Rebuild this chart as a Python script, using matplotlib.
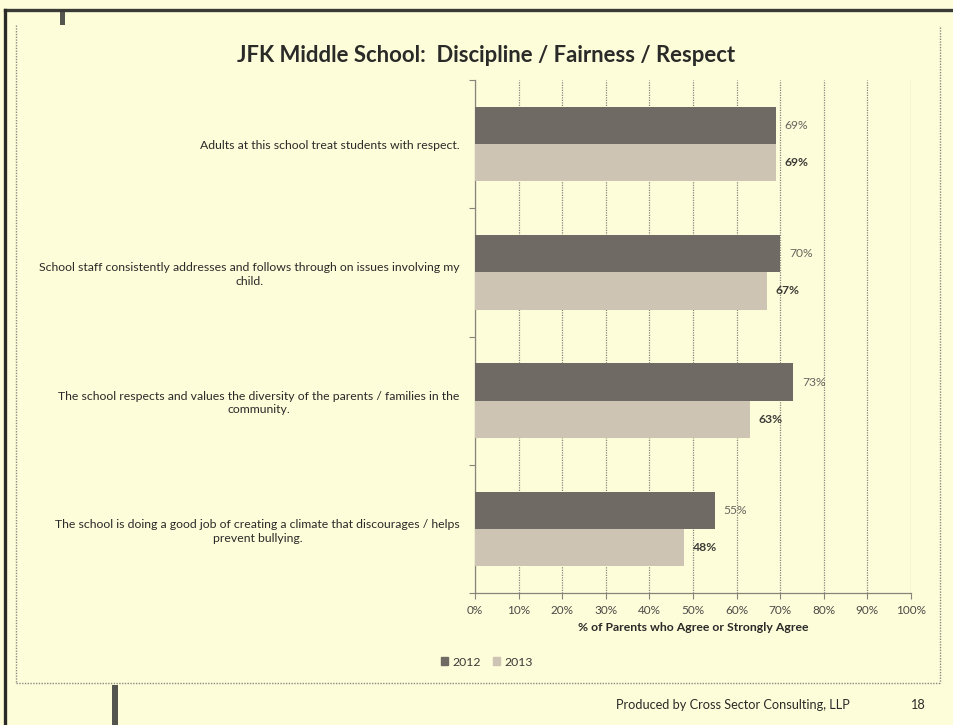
import matplotlib
matplotlib.use("Agg")
import matplotlib.pyplot as plt
from matplotlib.lines import Line2D
from matplotlib.patches import Patch, Rectangle
import numpy as np

plt.rcParams['font.family'] = ['Lato', 'DejaVu Sans']

# ---- data ----
categories = [
    "Adults at this school treat students with respect.",
    "School staff consistently addresses and follows through on issues involving my\nchild.",
    "The school respects and values the diversity of the parents / families in the\ncommunity.",
    "The school is doing a good job of creating a climate that discourages / helps\nprevent bullying.",
]
years = ["2012", "2013"]
values_2012 = [69, 70, 73, 55]
values_2013 = [69, 67, 63, 48]
x_ticks = [0, 10, 20, 30, 40, 50, 60, 70, 80, 90, 100]
x_tick_labels = [f"{t}%" for t in x_ticks]

title = "JFK Middle School:  Discipline / Fairness / Respect"
x_label = "% of Parents who Agree or Strongly Agree"
footer = "Produced by Cross Sector Consulting, LLP"
page_no = "18"

bg = "#FEFDDA"
c2012 = "#6f6b64"
c2013 = "#cdc4b4"
grid_c = "#85857c"

W, H = 954, 725
fig = plt.figure(figsize=(W / 100, H / 100), dpi=100, facecolor=bg)


def fx(px):
    return px / W


def fy(py):
    return 1 - py / H


# slide frame
fig.add_artist(Line2D([fx(5), 1], [fy(10), fy(10)], color="#3a3a36", lw=2.4))
fig.add_artist(Line2D([fx(5), fx(5)], [fy(10), 0], color="#2a2a28", lw=2.4))
fig.add_artist(Rectangle((fx(60), fy(25)), fx(5), 15 / H, color="#555550", lw=0))
fig.add_artist(Rectangle((fx(112), 0), fx(6), 40 / H, color="#555550", lw=0))

# chart area dotted border
dot = dict(color="#8a8a80", lw=1.0, ls=(0, (1, 1)))
fig.add_artist(Line2D([fx(16), fx(16)], [fy(25), fy(683)], **dot))
fig.add_artist(Line2D([fx(940), fx(940)], [fy(27), fy(683)], **dot))
fig.add_artist(Line2D([fx(16), fx(940)], [fy(683), fy(683)], **dot))

# plot area
ax = fig.add_axes([fx(475), fy(593), (911 - 475) / W, (593 - 80) / H])
ax.set_facecolor(bg)

n = len(categories)
pos = np.arange(n)
bh = 0.29
b1 = ax.barh(pos - bh / 2, values_2012, height=bh, color=c2012, label=years[0], zorder=3)
b2 = ax.barh(pos + bh / 2, values_2013, height=bh, color=c2013, label=years[1], zorder=3)

for rect, v in zip(b1, values_2012):
    ax.text(v + 2.0, rect.get_y() + rect.get_height() / 2, f"{v}%",
            va="center", ha="left", fontsize=8.7, color="#66665f")
for rect, v in zip(b2, values_2013):
    ax.text(v + 2.0, rect.get_y() + rect.get_height() / 2, f"{v}%",
            va="center", ha="left", fontsize=8.7, color="#3a3a36", fontweight="bold")

ax.set_xlim(0, 100)
ax.set_ylim(n - 0.5, -0.5)
ax.set_xticks(x_ticks)
ax.set_xticklabels(x_tick_labels, fontsize=8.5, color="#4a4a46")
ax.set_yticks(pos)
ax.set_yticklabels(categories, fontsize=8.8, color="#2a2a28", multialignment="center",
                   linespacing=1.3)
ax.set_yticks(np.arange(n + 1) - 0.5, minor=True)
ax.tick_params(axis="y", which="major", length=0, pad=11)
ax.tick_params(axis="y", which="minor", length=4, color=grid_c, width=0.8)
ax.tick_params(axis="x", length=4, color=grid_c, width=0.8, pad=5)

ax.grid(axis="x", color=grid_c, lw=0.9, ls=(0, (1, 1)), zorder=0)
ax.set_axisbelow(True)
for s in ["top", "right"]:
    ax.spines[s].set_visible(False)
for s in ["left", "bottom"]:
    ax.spines[s].set_color(grid_c)
    ax.spines[s].set_linestyle((0, (1, 1)))
    ax.spines[s].set_linewidth(0.9)

ax.set_xlabel(x_label, fontsize=8.8, fontweight="bold", color="#2a2a28", labelpad=4)

fig.text(fx(486), fy(55), title, ha="center", va="center",
         fontsize=15.9, fontweight="bold", color="#2a2a28")

handles = [Patch(color=c2012), Patch(color=c2013)]
fig.legend(handles, years, loc="center", bbox_to_anchor=(fx(487), fy(662)), ncol=2,
           frameon=False, fontsize=8.8, handlelength=0.55, handleheight=0.55,
           handletextpad=0.35, columnspacing=1.0, labelcolor="#3a3a36")

fig.text(fx(850), fy(705), footer, ha="right", va="center", fontsize=9.2, color="#2a2a28")
fig.text(fx(917), fy(705), page_no, ha="center", va="center", fontsize=9.2, color="#2a2a28")

fig.savefig("out.png", dpi=100, facecolor=bg)
